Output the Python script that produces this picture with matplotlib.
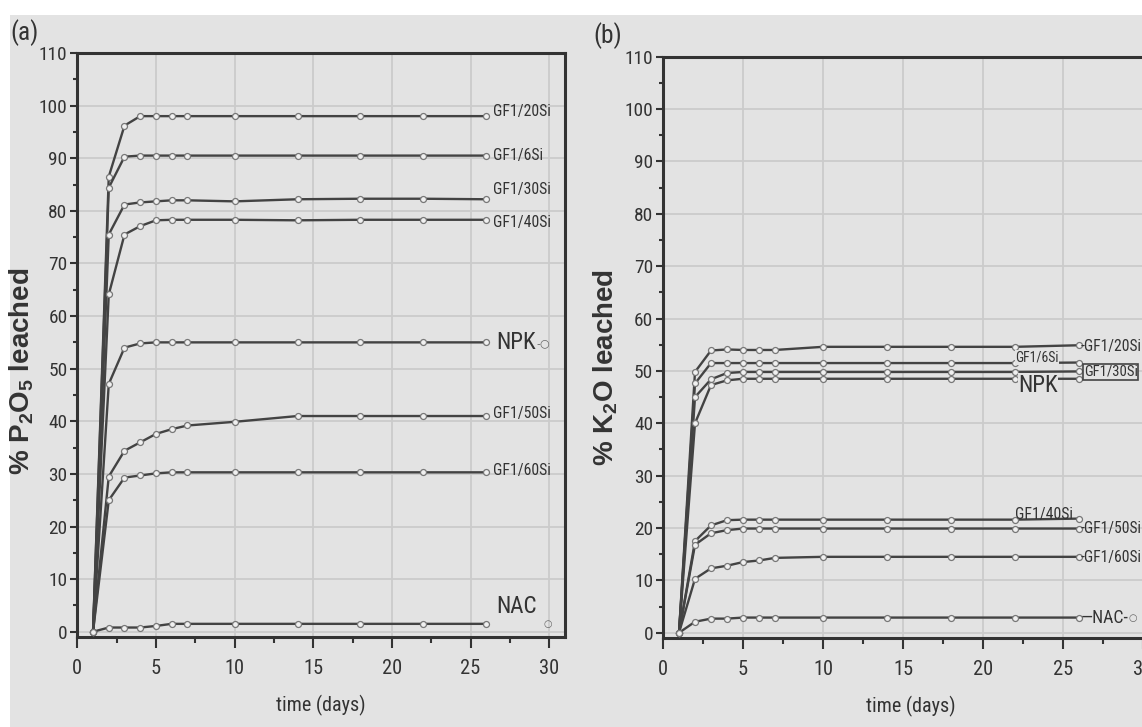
import matplotlib
matplotlib.use("Agg")
import matplotlib.pyplot as plt
from matplotlib import font_manager as fm
from matplotlib.font_manager import FontProperties
from matplotlib.patches import Rectangle
from matplotlib.ticker import MultipleLocator
from matplotlib.textpath import TextPath

# ---------------- data ----------------
days = [1, 2, 3, 4, 5, 6, 7, 10, 14, 18, 22, 26]

# (a) % P2O5 leached
gf20_p = [0, 86.5, 96.2, 98.0, 98.0, 98.0, 98.0, 98.0, 98.0, 98.0, 98.0, 98.0]
gf6_p = [0, 84.4, 90.3, 90.5, 90.5, 90.5, 90.5, 90.5, 90.5, 90.5, 90.5, 90.5]
gf30_p = [0, 75.5, 81.2, 81.6, 81.8, 82.0, 82.0, 81.8, 82.2, 82.3, 82.3, 82.2]
gf40_p = [0, 64.1, 75.5, 77.1, 78.2, 78.3, 78.3, 78.3, 78.2, 78.3, 78.3, 78.3]
npk_p = [0, 47.1, 54.0, 54.8, 55.0, 55.0, 55.0, 55.0, 55.0, 55.0, 55.0, 55.0]
gf50_p = [0, 29.5, 34.4, 36.0, 37.6, 38.5, 39.2, 39.9, 41.0, 41.0, 41.0, 41.0]
gf60_p = [0, 25.0, 29.3, 29.7, 30.1, 30.3, 30.3, 30.3, 30.3, 30.3, 30.3, 30.3]
nac_p = [0, 0.8, 0.8, 0.8, 1.1, 1.5, 1.5, 1.5, 1.5, 1.5, 1.5, 1.5]

# (b) % K2O leached
gf20_k = [0, 49.8, 53.9, 54.1, 54.0, 54.0, 54.0, 54.6, 54.6, 54.6, 54.6, 54.9]
gf6_k = [0, 47.6, 51.5, 51.5, 51.5, 51.5, 51.5, 51.5, 51.5, 51.5, 51.5, 51.6]
gf30_k = [0, 45.0, 48.4, 49.6, 49.8, 49.8, 49.8, 49.8, 49.8, 49.8, 49.8, 49.9]
npk_k = [0, 40.0, 47.3, 48.2, 48.5, 48.5, 48.5, 48.5, 48.5, 48.5, 48.5, 48.5]
gf40_k = [0, 17.5, 20.5, 21.5, 21.6, 21.6, 21.6, 21.6, 21.6, 21.6, 21.6, 21.8]
gf50_k = [0, 16.8, 19.0, 19.6, 19.9, 19.9, 19.9, 19.9, 19.9, 19.9, 19.9, 19.9]
gf60_k = [0, 10.3, 12.3, 12.8, 13.5, 13.8, 14.3, 14.5, 14.5, 14.5, 14.5, 14.5]
nac_k = [0, 2.1, 2.7, 2.7, 2.9, 2.9, 2.9, 2.9, 2.9, 2.9, 2.9, 2.9]

x_ticks = [0, 5, 10, 15, 20, 25, 30]
y_ticks = [0, 10, 20, 30, 40, 50, 60, 70, 80, 90, 100, 110]

series_p = [gf20_p, gf6_p, gf30_p, gf40_p, npk_p, gf50_p, gf60_p, nac_p]
series_k = [gf20_k, gf6_k, gf30_k, npk_k, gf40_k, gf50_k, gf60_k, nac_k]

DPI = 100

# ---------------- fonts: prefer a narrow sans if one is installed ----------------
def _find_narrow():
    prefs = ["Liberation Sans Narrow", "Arial Narrow", "DejaVu Sans Condensed",
             "Noto Sans Condensed", "Roboto Condensed", "Open Sans Condensed"]
    regular = [f for f in fm.fontManager.ttflist
               if f.style == "normal" and f.weight in (400, "normal", "regular", "book")]
    for p in prefs:
        for f in regular:
            if f.name == p:
                return f.fname
    for f in regular:
        st = f.stretch
        cond = (isinstance(st, str) and "condensed" in st) or \
               (isinstance(st, (int, float)) and st <= 400)
        if cond and any(k in f.name for k in ("Sans", "Roboto", "Liberation", "Noto", "Open")):
            return f.fname
    return None


_narrow = _find_narrow()
if _narrow:
    FP = FontProperties(fname=_narrow)
else:
    FP = FontProperties(family=["Liberation Sans", "DejaVu Sans"])
plt.rcParams["font.family"] = ["Liberation Sans", "DejaVu Sans"]
plt.rcParams["mathtext.fontset"] = "custom"
plt.rcParams["mathtext.rm"] = "Liberation Sans:bold"
plt.rcParams["mathtext.bf"] = "Liberation Sans:bold"


def fit(text, target_px, nominal_pt, fp=FP):
    """font size (pt) so that the ink width is at most target_px"""
    w = TextPath((0, 0), text, size=100, prop=fp).get_extents().width * DPI / 72.0
    if w <= 0:
        return nominal_pt
    return min(nominal_pt, 100.0 * target_px / w)


def fpsize(size):
    p = FP.copy()
    p.set_size(size)
    return p


BG = "#e3e3e3"
TXT = "#333333"
LINE = "#434343"

fig = plt.figure(figsize=(11.42, 7.27), dpi=DPI, facecolor=BG)
fig.patches.append(Rectangle((0, 1 - 15 / 727), 1, 15 / 727, transform=fig.transFigure,
                             facecolor="white", edgecolor="none", zorder=-10))
fig.patches.append(Rectangle((0, 0), 10 / 1142, 1, transform=fig.transFigure,
                             facecolor="white", edgecolor="none", zorder=-10))

ax_a = fig.add_axes([77.3 / 1142, 90 / 727, (565 - 77.3) / 1142, (637 - 53) / 727])
ax_b = fig.add_axes([663 / 1142, 89 / 727, (1159 - 663) / 1142, (638 - 56.7) / 727])

tick_y_size = fit("110", 26, 15)
tick_x_size = fit("30", 18, 16)
xlabel_size = fit("time (days)", 88, 16)


def style(ax):
    ax.set_facecolor(BG)
    ax.set_xlim(0, 31)
    ax.set_ylim(-1, 110)
    ax.set_xticks(x_ticks)
    ax.set_yticks(y_ticks)
    ax.xaxis.set_minor_locator(MultipleLocator(2.5))
    ax.yaxis.set_minor_locator(MultipleLocator(5))
    ax.grid(True, which="major", color="#cbcbcb", lw=1.3, zorder=0)
    for sp in ax.spines.values():
        sp.set_linewidth(2.2)
        sp.set_color("#333333")
    ax.tick_params(axis="y", which="major", length=5, width=1.5, color="#333333",
                   labelcolor=TXT, pad=2)
    ax.tick_params(axis="y", which="minor", length=3, width=1.5, color="#333333")
    ax.tick_params(axis="x", which="major", length=8, width=1.5, color="#333333",
                   labelcolor=TXT, pad=8)
    ax.tick_params(axis="x", which="minor", length=4, width=1.5, color="#333333")
    for lab in ax.get_yticklabels():
        lab.set_fontproperties(fpsize(tick_y_size))
    for lab in ax.get_xticklabels():
        lab.set_fontproperties(fpsize(tick_x_size))
    ax.set_xlabel("time (days)", fontproperties=fpsize(xlabel_size), color=TXT, labelpad=12)


def draw(ax, series):
    for ys in series:
        ax.plot(days, ys, color=LINE, lw=1.7, marker="o", ms=4.3,
                mfc="#f0f0f0", mec="#777777", mew=0.9, zorder=3, clip_on=False)


style(ax_a)
style(ax_b)
draw(ax_a, series_p)
draw(ax_b, series_k)

ax_a.set_ylabel("% P$_2$O$_5$ leached", fontsize=20, fontweight="bold",
                family="Liberation Sans", color=TXT)
ax_b.set_ylabel("% K$_2$O leached", fontsize=20, fontweight="bold",
                family="Liberation Sans", color=TXT)
ax_a.yaxis.set_label_coords(-0.085, 0.455)
ax_b.yaxis.set_label_coords(-0.087, 0.465)

paren_size = fit("(a)", 25, 19)
fig.text(10 / 1142, 1 - 33 / 727, "(a)", fontproperties=fpsize(paren_size), color=TXT,
         va="center", ha="left")
fig.text(593 / 1142, 1 - 36 / 727, "(b)", fontproperties=fpsize(paren_size), color=TXT,
         va="center", ha="left")


def label(ax, x, y, s, width_px, nominal, **kw):
    kw.setdefault("color", TXT)
    kw.setdefault("va", "center")
    kw.setdefault("ha", "left")
    kw.setdefault("zorder", 5)
    ax.text(x, y, s, fontproperties=fpsize(fit(s, width_px, nominal)), **kw)


circ_kw = dict(color="#666666", va="center", ha="left", family=["DejaVu Sans"], zorder=5)

# ---------- in-plot labels, panel (a) ----------
gf_a = fit("GF1/20Si", 56, 13)
for y, s in [(98.8, "GF1/20Si"), (90.5, "GF1/6Si"), (84.0, "GF1/30Si"), (77.8, "GF1/40Si"),
             (41.5, "GF1/50Si"), (30.7, "GF1/60Si")]:
    ax_a.text(26.45, y, s, fontproperties=fpsize(gf_a), color=TXT, va="center", ha="left",
              zorder=5)
label(ax_a, 26.6, 54.9, "NPK", 38, 17)
ax_a.text(29.2, 54.9, "-\u25CB", fontsize=8, **circ_kw)
label(ax_a, 26.6, 4.8, "NAC", 38, 17)
ax_a.text(29.65, 1.4, "\u25CB", fontsize=7, **circ_kw)

# ---------- in-plot labels, panel (b) ----------
bg_box = dict(facecolor=BG, edgecolor="none", pad=0.3)
label(ax_b, 26.1, 54.6, "-GF1/20Si", 60, 13)
label(ax_b, 22.0, 52.5, "GF1/6Si", 42, 11, bbox=bg_box)
label(ax_b, 22.2, 47.3, "NPK", 38, 17, bbox=bg_box)
label(ax_b, 26.3, 49.8, "GF1/30Si", 52, 12,
      bbox=dict(facecolor=BG, edgecolor="#444444", lw=1.2, pad=0.5))
label(ax_b, 22.0, 22.6, "GF1/40Si", 56, 12.5)
label(ax_b, 26.1, 19.9, "-GF1/50Si", 60, 12.5)
label(ax_b, 26.1, 14.4, "-GF1/60Si", 60, 12.5)
label(ax_b, 26.1, 2.9, "\u2014NAC-", 46, 16)
ax_b.text(29.1, 2.9, "\u25CB", fontsize=7, **circ_kw)

fig.savefig("out.png", dpi=DPI, facecolor=BG)
